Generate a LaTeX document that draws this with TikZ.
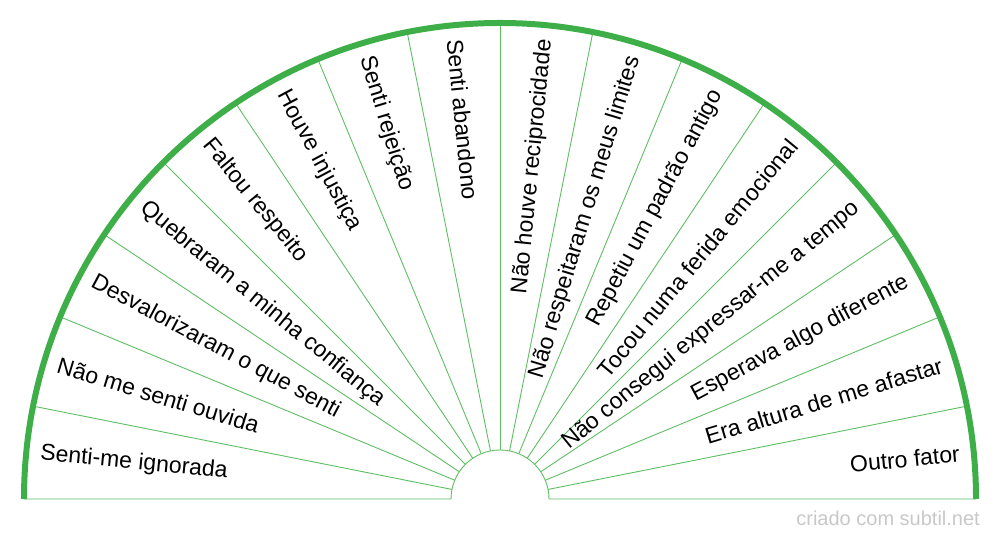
\documentclass[tikz,border=0pt]{standalone}
\usepackage{fontspec}
\setmainfont{Liberation Sans}
\usetikzlibrary{calc}
\definecolor{arcgreen}{RGB}{62,175,72}
\definecolor{linegreen}{RGB}{95,190,100}
\definecolor{wmgray}{RGB}{200,200,200}
\begin{document}
\begin{tikzpicture}[x=1pt,y=1pt,
  lbl/.style={inner sep=0pt,font=\fontsize{23}{27}\selectfont,text=black},
  spoke/.style={draw=linegreen,line width=0.9pt},
  rim/.style={draw=arcgreen,line width=6pt}]
\useasboundingbox (0,0) rectangle (1000,540);
\coordinate (c) at (500,41);
\foreach \k in {1,...,15}{
  \coordinate (in\k) at ($(c)+(\k*11.25:49)$);
  \coordinate (out\k) at ($(c)+(\k*11.25:476)$);
  \draw[spoke] (in\k) -- (out\k);
}
\coordinate (bl) at ($(c)+(-476,0)$);
\coordinate (bli) at ($(c)+(-49,0)$);
\coordinate (br) at ($(c)+(476,0)$);
\draw[spoke] (bl) -- (bli) arc (180:0:49) -- (br);
\draw[rim] (bl) arc (180:0:476);
\foreach \i/\t in {0/Senti-me ignorada,1/Não me senti ouvida,2/Desvalorizaram o que senti,3/Quebraram a minha confiança,4/Faltou respeito,5/Houve injustiça,6/Senti rejeição,7/Senti abandono,8/Não houve reciprocidade,9/Não respeitaram os meus limites,10/Repetiu um padrão antigo,11/Tocou numa ferida emocional,12/Não consegui expressar-me a tempo,13/Esperava algo diferente,14/Era altura de me afastar,15/Outro fator}{
  \pgfmathsetmacro\a{180-(\i+0.5)*11.25}
  \ifnum\i<8
    \node[lbl,anchor=west,rotate=\a-180] (l\i) at ($(c)+(\a:462)$) {\t};
  \else
    \node[lbl,anchor=east,rotate=\a] (l\i) at ($(c)+(\a:462)$) {\t};
  \fi
}
\node[anchor=east,inner sep=0pt,text=wmgray,font=\fontsize{20}{24}\selectfont] (wm) at (980,22) {criado com subtil.net};
\end{tikzpicture}
\end{document}
